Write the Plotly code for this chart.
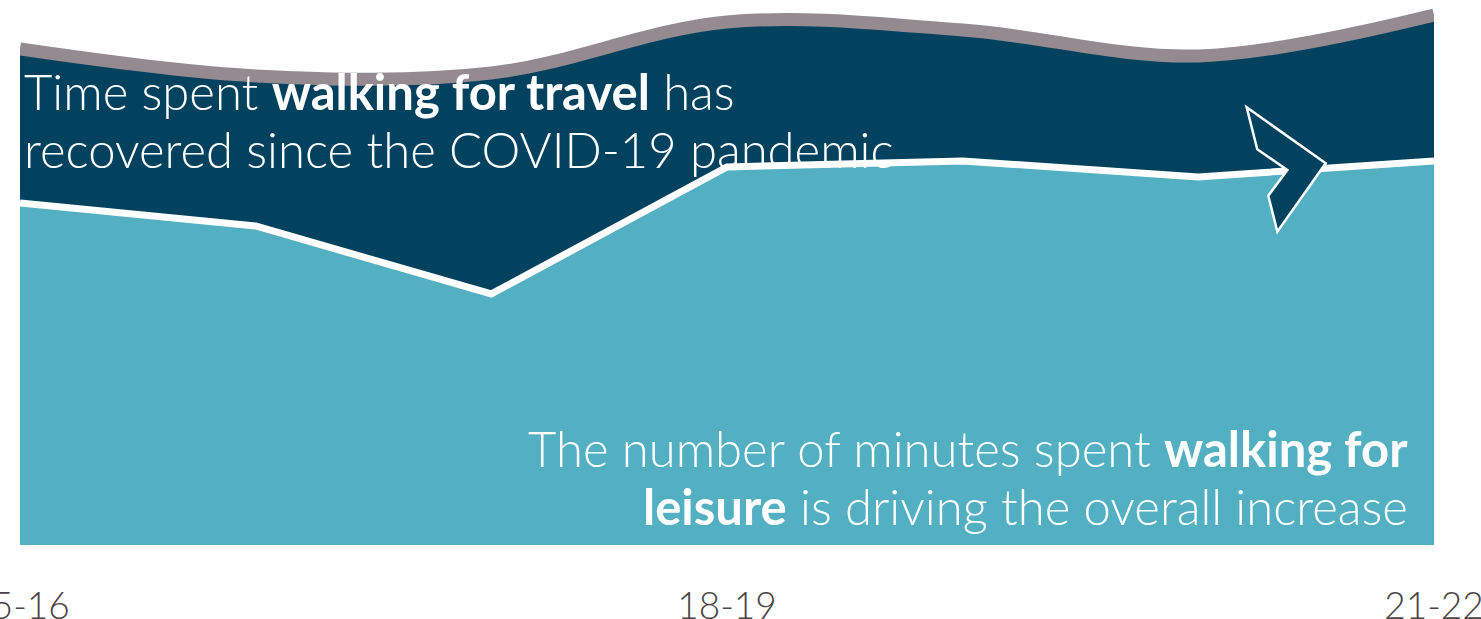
import plotly.graph_objects as go

# Survey years (x axis) and the labelled subset
years = ["15-16", "16-17", "17-18", "18-19", "19-20", "20-21", "21-22"]
tick_years = ["15-16", "18-19", "21-22"]

# Average minutes per week spent walking, split by purpose
leisure_minutes = [188.3, 175.6, 138.2, 208.1, 211.4, 202.6, 211.4]
travel_minutes = [84.7, 82.6, 121.6, 79.8, 72.1, 66.6, 80.3]

LIGHT = "#53AFC2"
DARK = "#02425E"
GREY = "#958A8F"
FONT = "Lato"

fig = go.Figure()

fig.add_trace(go.Scatter(
    x=years, y=leisure_minutes, name="Walking for leisure",
    stackgroup="walk", mode="lines",
    line=dict(color="white", width=7, shape="linear"),
    fillcolor=LIGHT, cliponaxis=False, hoverinfo="x+y",
))
fig.add_trace(go.Scatter(
    x=years, y=travel_minutes, name="Walking for travel",
    stackgroup="walk", mode="lines",
    line=dict(color=GREY, width=13, shape="spline", smoothing=1),
    fillcolor=DARK, cliponaxis=False, hoverinfo="x+y",
))

# Chevron arrow marking the recent rise (paper coordinates)
arrow = [(0.8675, 0.8031), (0.9234, 0.7004), (0.8892, 0.5749),
         (0.8828, 0.6409), (0.8963, 0.6881), (0.8750, 0.7261)]
arrow_path = "M " + " L ".join(f"{x},{y}" for x, y in arrow) + " Z"
fig.add_shape(type="path", path=arrow_path, xref="paper", yref="paper",
              fillcolor=DARK, line=dict(color="white", width=2.5), layer="above")

text_font = dict(family=FONT, size=49, color="white", weight=300)

def note(text, x, y, xanchor):
    fig.add_annotation(text=text, x=x, y=y, xref="paper", yref="paper",
                       xanchor=xanchor, yanchor="middle", showarrow=False,
                       font=text_font, align=xanchor)

# Travel callout (top left)
note("Time spent <b>walking for travel</b> has", 0.0015, 0.8330, "left")
note("recovered since the COVID-19 pandemic", 0.0015, 0.7266, "left")
# Leisure callout (bottom right)
note("The number of minutes spent <b>walking for</b>", 0.9830, 0.1780, "right")
note("<b>leisure</b> is driving the overall increase", 0.9830, 0.0716, "right")

fig.update_layout(
    width=1481, height=619,
    margin=dict(l=20, r=47, t=0, b=74),
    paper_bgcolor="white", plot_bgcolor="white",
    showlegend=False,
    xaxis=dict(type="category", range=[0, len(years) - 1],
               tickvals=tick_years, ticktext=tick_years,
               showgrid=False, zeroline=False, showline=False, ticks="",
               ticklabelstandoff=36, automargin=False,
               tickfont=dict(family=FONT, size=37, color="#4A4445", weight=300)),
    yaxis=dict(range=[0, 300], visible=False, showgrid=False, zeroline=False,
               automargin=False),
)

fig.write_html("out.html")
